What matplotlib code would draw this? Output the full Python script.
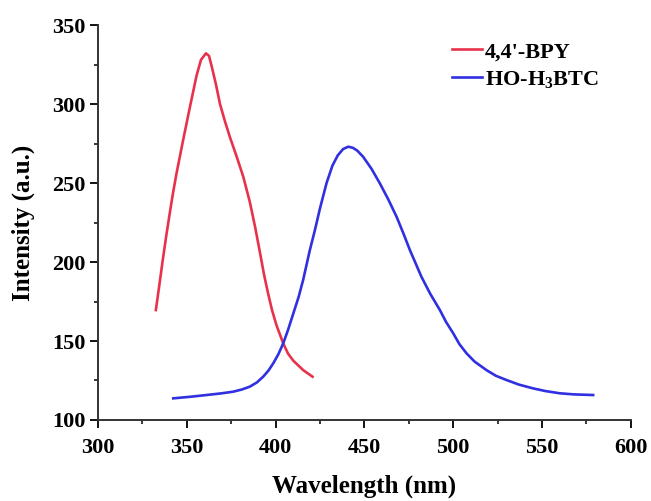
import matplotlib
matplotlib.use("Agg")
import matplotlib.pyplot as plt

bpy_x = [332.6, 334.5, 336.5, 338.5, 340.5, 342.3, 344.2, 348.0, 351.8, 355.5,
         358.0, 360.8, 362.5, 364.0, 366.5, 368.7, 371.5, 374.3, 378.0, 381.8,
         385.5, 388.5, 391.2, 393.5, 395.8, 398.0, 400.5, 404.3, 407.0, 410.0,
         415.5, 420.8]
bpy_y = [169.6, 185.0, 201.5, 217.0, 231.5, 244.0, 256.0, 277.5, 298.3, 318.0,
         328.0, 332.1, 330.5, 324.0, 312.0, 300.0, 289.0, 279.0, 267.0, 254.0,
         238.0, 222.0, 206.0, 192.0, 180.0, 169.5, 160.0, 148.5, 142.0, 137.5,
         131.6, 127.4]

btc_x = [342.4, 352.0, 361.1, 369.0, 376.1, 381.0, 385.5, 389.5, 393.0, 396.0,
         398.7, 401.5, 404.3, 407.0, 410.0, 413.0, 415.5, 419.3, 422.1, 425.0,
         428.7, 432.0, 435.0, 438.0, 440.9, 443.5, 446.0, 449.3, 454.0, 458.7,
         463.5, 468.1, 472.0, 475.6, 482.1, 487.0, 492.5, 496.0, 500.0, 503.5,
         507.5, 512.0, 518.7, 524.0, 530.0, 537.0, 545.0, 552.0, 560.0, 568.0,
         578.8]
btc_y = [113.7, 114.7, 115.8, 116.8, 117.9, 119.3, 121.1, 123.8, 127.4, 131.3,
         135.9, 141.5, 148.5, 157.0, 167.5, 178.0, 188.6, 207.6, 220.0, 234.0,
         250.0, 261.0, 267.5, 271.5, 273.0, 272.3, 270.5, 266.6, 259.0, 249.8,
         239.5, 228.7, 218.0, 207.6, 190.7, 180.0, 169.6, 162.0, 154.9, 148.0,
         142.2, 137.0, 131.6, 128.0, 125.3, 122.4, 120.0, 118.3, 116.9, 116.2,
         115.8]

x_ticks = [300, 350, 400, 450, 500, 550, 600]
y_ticks = [100, 150, 200, 250, 300, 350]

plt.rcParams['font.family'] = ['Liberation Serif', 'DejaVu Serif']
plt.rcParams['font.weight'] = 'bold'
plt.rcParams['mathtext.fontset'] = 'custom'
plt.rcParams['mathtext.rm'] = 'Liberation Serif:bold'

fig = plt.figure(figsize=(6.51, 5.01), dpi=100)
ax = fig.add_axes([0.1505, 0.1617, 0.8185, 0.7883])

ax.plot(bpy_x, bpy_y, color='#e8324c', lw=1.9, label="4,4'-BPY")
ax.plot(btc_x, btc_y, color='#3030e0', lw=1.9, label=r"HO-H$\mathregular{_3}$BTC")

ax.set_xlim(300, 600)
ax.set_ylim(100, 350)
ax.set_xticks(x_ticks)
ax.set_yticks(y_ticks)
ax.set_xticks([325, 375, 425, 475, 525, 575], minor=True)
ax.set_yticks([125, 175, 225, 275, 325], minor=True)
ax.tick_params(which='major', direction='out', length=6, width=1.3, labelsize=16)
ax.tick_params(axis='x', which='major', pad=7)
ax.tick_params(axis='y', which='major', pad=3)
ax.tick_params(which='minor', direction='out', length=3, width=1.1)
for s in ['top', 'right']:
    ax.spines[s].set_visible(False)
for s in ['left', 'bottom']:
    ax.spines[s].set_linewidth(1.4)
    ax.spines[s].set_color('#333333')

ax.set_xlabel("Wavelength (nm)", fontsize=18, fontweight='bold', labelpad=12)
ax.set_ylabel("Intensity (a.u.)", fontsize=18, fontweight='bold', labelpad=12)

ax.legend(loc='upper left', bbox_to_anchor=(0.664, 0.958), frameon=False,
          fontsize=16, handlelength=1.36, handletextpad=0.14, labelspacing=0.3,
          borderpad=0, borderaxespad=0)

fig.savefig("out.png", dpi=100)
